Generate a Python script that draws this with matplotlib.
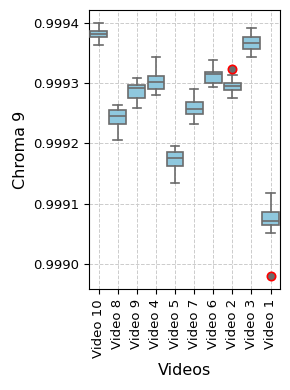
import matplotlib
matplotlib.use("Agg")
import matplotlib.pyplot as plt

categories = ["Video 10", "Video 8", "Video 9", "Video 4", "Video 5",
              "Video 7", "Video 6", "Video 2", "Video 3", "Video 1"]
whisker_low = [0.999364, 0.999205, 0.999258, 0.999281, 0.999134,
               0.999233, 0.999293, 0.999275, 0.999343, 0.999052]
q1 = [0.999376, 0.999233, 0.999276, 0.999290, 0.999162,
      0.999248, 0.999301, 0.999288, 0.999357, 0.999064]
medians = [0.999381, 0.999246, 0.999292, 0.999302, 0.999176,
           0.999257, 0.999315, 0.999296, 0.999366, 0.999071]
q3 = [0.999386, 0.999255, 0.999297, 0.999312, 0.999185,
      0.999268, 0.999319, 0.999301, 0.999377, 0.999087]
whisker_high = [0.999399, 0.999263, 0.999309, 0.999343, 0.999195,
                0.999291, 0.999339, 0.999314, 0.999391, 0.999118]
outliers = [[], [], [], [], [], [], [], [0.999324], [], [0.998980]]
yticks = [0.9990, 0.9991, 0.9992, 0.9993, 0.9994]

stats = []
for i, name in enumerate(categories):
    stats.append(dict(label=name, whislo=whisker_low[i], q1=q1[i], med=medians[i],
                      q3=q3[i], whishi=whisker_high[i], fliers=outliers[i]))

fig = plt.figure(figsize=(2.9, 3.9), dpi=100)
ax = fig.add_axes([0.307, 0.258, 0.659, 0.716])
line_c = "#6b6b6b"
ax.bxp(stats, positions=range(len(categories)), widths=0.88, patch_artist=True,
       boxprops=dict(facecolor="#8fc8de", edgecolor=line_c, linewidth=1.2),
       medianprops=dict(color=line_c, linewidth=1.2),
       whiskerprops=dict(color=line_c, linewidth=1.2),
       capprops=dict(color=line_c, linewidth=1.2),
       flierprops=dict(marker="o", markerfacecolor=line_c, markeredgecolor="red",
                       markersize=6, markeredgewidth=1.2),
       capwidths=0.44, zorder=3)
ax.set_xlim(-0.5, len(categories) - 0.5)
ax.set_ylim(0.998958, 0.999421)
ax.set_yticks(yticks)
ax.set_yticklabels([f"{t:.4f}" for t in yticks], fontsize=9.5)
ax.set_xticks(range(len(categories)))
ax.set_xticklabels(categories, rotation=90, fontsize=9.5)
ax.grid(True, linestyle="--", color="#cccccc", linewidth=0.7, zorder=0)
ax.set_axisbelow(True)
ax.set_xlabel("Videos", fontsize=11.5)
ax.set_ylabel("Chroma 9", fontsize=11.5)
fig.savefig("out.png", dpi=100)
